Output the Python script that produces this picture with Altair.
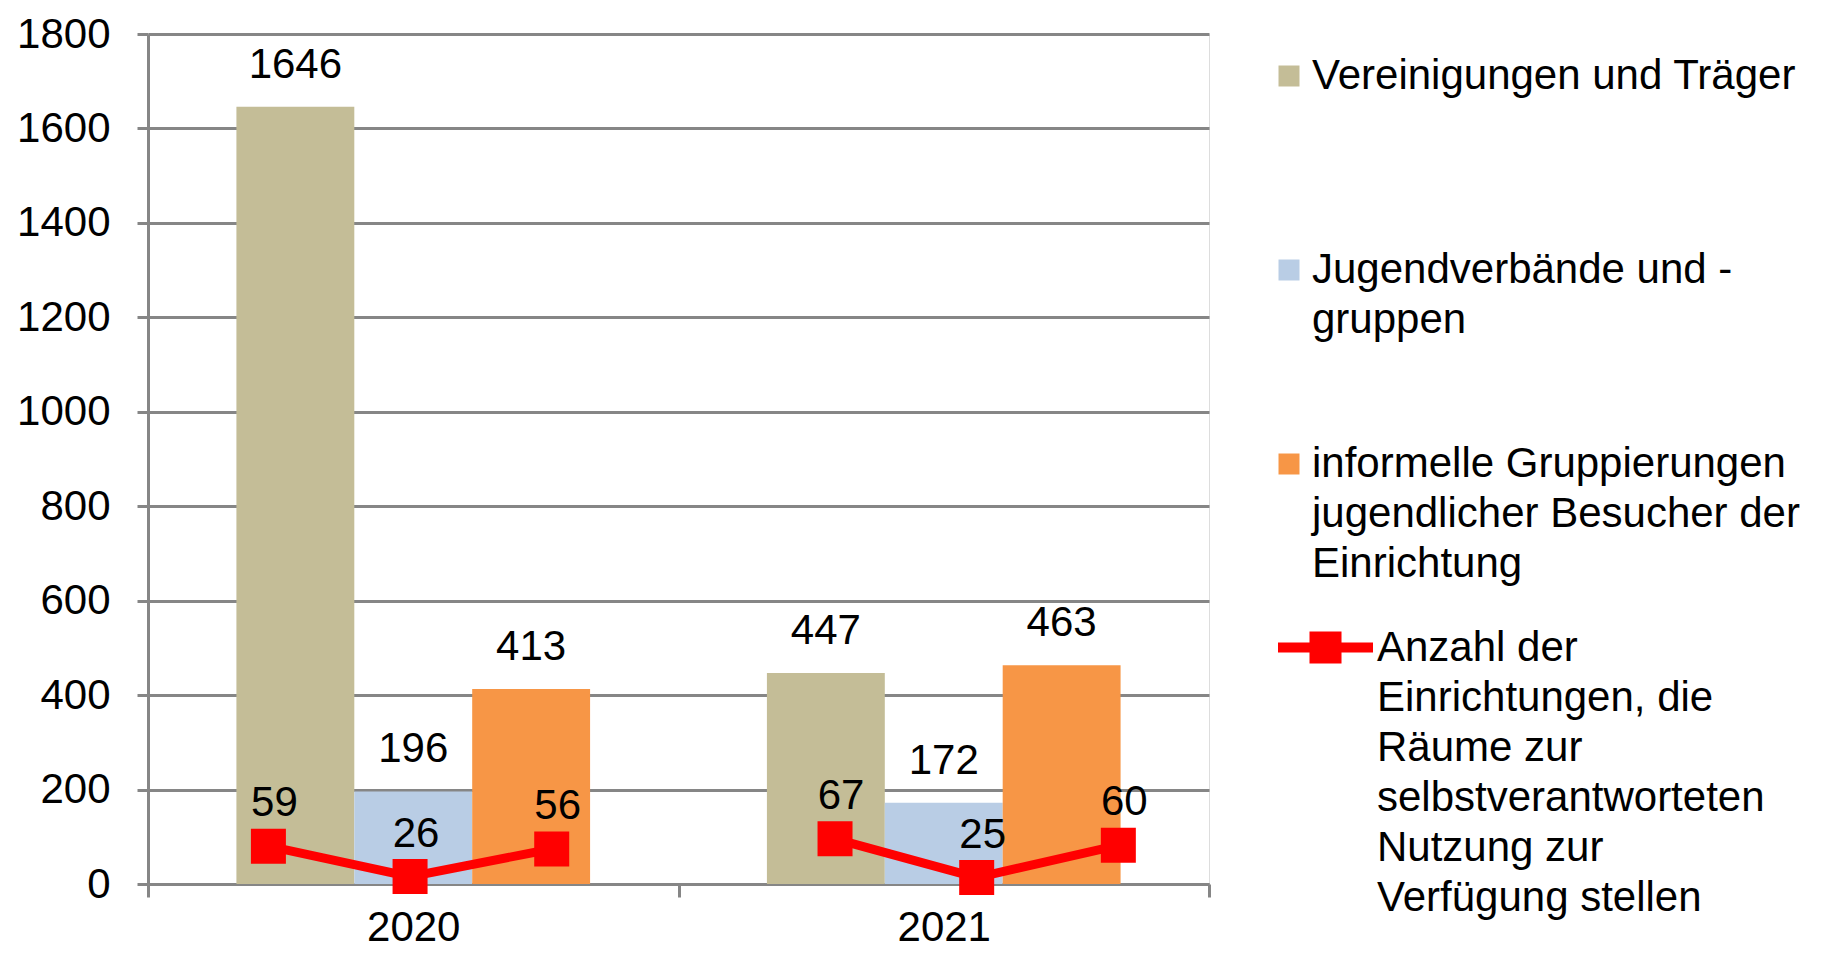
import altair as alt
import pandas as pd

# ---- data ----
years = ["2020", "2021"]
series = [
    "Vereinigungen und Träger",
    "Jugendverbände und -\ngruppen",
    "informelle Gruppierungen\njugendlicher Besucher der\nEinrichtung",
]
bars_2020 = [1646, 196, 413]
bars_2021 = [447, 172, 463]
line_name = "Anzahl der\nEinrichtungen, die\nRäume zur\nselbstverantworteten\nNutzung zur\nVerfügung stellen"
line_2020 = [59, 26, 56]
line_2021 = [67, 25, 60]
y_ticks = [0, 200, 400, 600, 800, 1000, 1200, 1400, 1600, 1800]

bar_colors = ["#C4BD97", "#B9CDE5", "#F79646"]
line_color = "#FF0000"
FONT = "Liberation Sans"
GRAY = "#868686"

rows = []
for yr, vals in zip(years, [bars_2020, bars_2021]):
    for s, v in zip(series, vals):
        rows.append({"year": yr, "series": s, "value": v})
bars_df = pd.DataFrame(rows)

lrows = []
for yi, (yr, vals) in enumerate(zip(years, [line_2020, line_2021])):
    for si, v in enumerate(vals):
        lrows.append({"year": yr, "pos": yi * 4 + si, "count": v, "name": line_name})
line_df = pd.DataFrame(lrows)

# ---- bars ----
x_enc = alt.X(
    "year:N",
    sort=years,
    scale=alt.Scale(paddingInner=0, paddingOuter=0),
    axis=alt.Axis(
        title=None, labelAngle=0, labelFontSize=42, labelFont=FONT, labelColor="black",
        labelPadding=10, tickBand="extent", tickSize=13, tickWidth=3, tickColor=GRAY,
        domainColor=GRAY, domainWidth=3, grid=False,
    ),
)
xo_enc = alt.XOffset("series:N", sort=series, scale=alt.Scale(paddingInner=0, paddingOuter=0.75))
y_enc = alt.Y(
    "value:Q",
    scale=alt.Scale(domain=[0, 1800], nice=False),
    axis=alt.Axis(
        title=None, values=y_ticks, format="d", labelFontSize=42, labelFont=FONT,
        labelColor="black", labelPadding=27, tickSize=11, tickWidth=3, tickColor=GRAY,
        domainColor=GRAY, domainWidth=3, grid=True, gridColor=GRAY, gridWidth=3,
    ),
)

base_bars = alt.Chart(bars_df)
bars = base_bars.mark_bar().encode(
    x=x_enc,
    xOffset=xo_enc,
    y=y_enc,
    color=alt.Color(
        "series:N",
        sort=series,
        scale=alt.Scale(domain=series, range=bar_colors),
        legend=alt.Legend(
            title=None, orient="none", legendX=1120, legendY=21, direction="vertical",
            columns=1, gridAlign="all", rowPadding=52, symbolType="square", symbolSize=441,
            symbolStrokeWidth=0, labelOffset=2, labelFontSize=42, labelFont=FONT,
            labelColor="black", labelLimit=0, labelBaseline="middle",
            labelExpr="split(datum.label, '\\n')",
        ),
    ),
)
bar_text = base_bars.mark_text(
    baseline="alphabetic", dy=-29, fontSize=42, font=FONT, color="black"
).encode(x=alt.X("year:N", sort=years), xOffset=alt.XOffset("series:N", sort=series),
         y=alt.Y("value:Q"), text="value:Q")

bar_layer = alt.layer(bars, bar_text)

# ---- line (secondary scale) ----
xl = alt.X("pos:Q", scale=alt.Scale(domain=[-0.85, 6.64], nice=False, zero=False), axis=None)
yl = alt.Y("count:Q", scale=alt.Scale(domain=[18, 940], nice=False, zero=False), axis=None)
base_line = alt.Chart(line_df)
line = base_line.mark_line(color=line_color, strokeWidth=9).encode(x=xl, y=yl, detail="year:N")
squares = base_line.mark_square(size=1225, opacity=1).encode(
    x=xl,
    y=yl,
    fill=alt.Fill(
        "name:N",
        scale=alt.Scale(domain=[line_name], range=[line_color]),
        legend=alt.Legend(
            title=None, orient="none", legendX=1130, legendY=566,
            symbolType="M-1,-0.105H-0.337V-0.337H0.337V-0.105H1V0.105H0.337V0.337H-0.337V0.105H-1Z",
            symbolSize=9025, symbolStrokeWidth=0, symbolOpacity=1, labelOffset=4,
            labelFontSize=42, labelFont=FONT, labelColor="black", labelLimit=0,
            labelBaseline="middle", labelExpr="split(datum.label, '\\n')",
        ),
    ),
)
line_text = base_line.mark_text(
    baseline="alphabetic", dx=6, dy=-30, fontSize=42, font=FONT, color="black"
).encode(x=xl, y=yl, text="count:Q")

line_layer = alt.layer(line, squares, line_text)

chart = (
    alt.layer(bar_layer, line_layer)
    .resolve_scale(x="independent", y="independent")
    .properties(
        width=1061,
        height=850,
        autosize=alt.AutoSizeParams(type="none"),
        padding={"left": 140, "top": 26, "right": 620, "bottom": 64},
    )
    .configure_view(stroke=None)
    .configure(background="white", style={"guide-label": {"lineHeight": 50}})
)

chart.save("out.html", embed_options={"renderer": "svg", "actions": False})
